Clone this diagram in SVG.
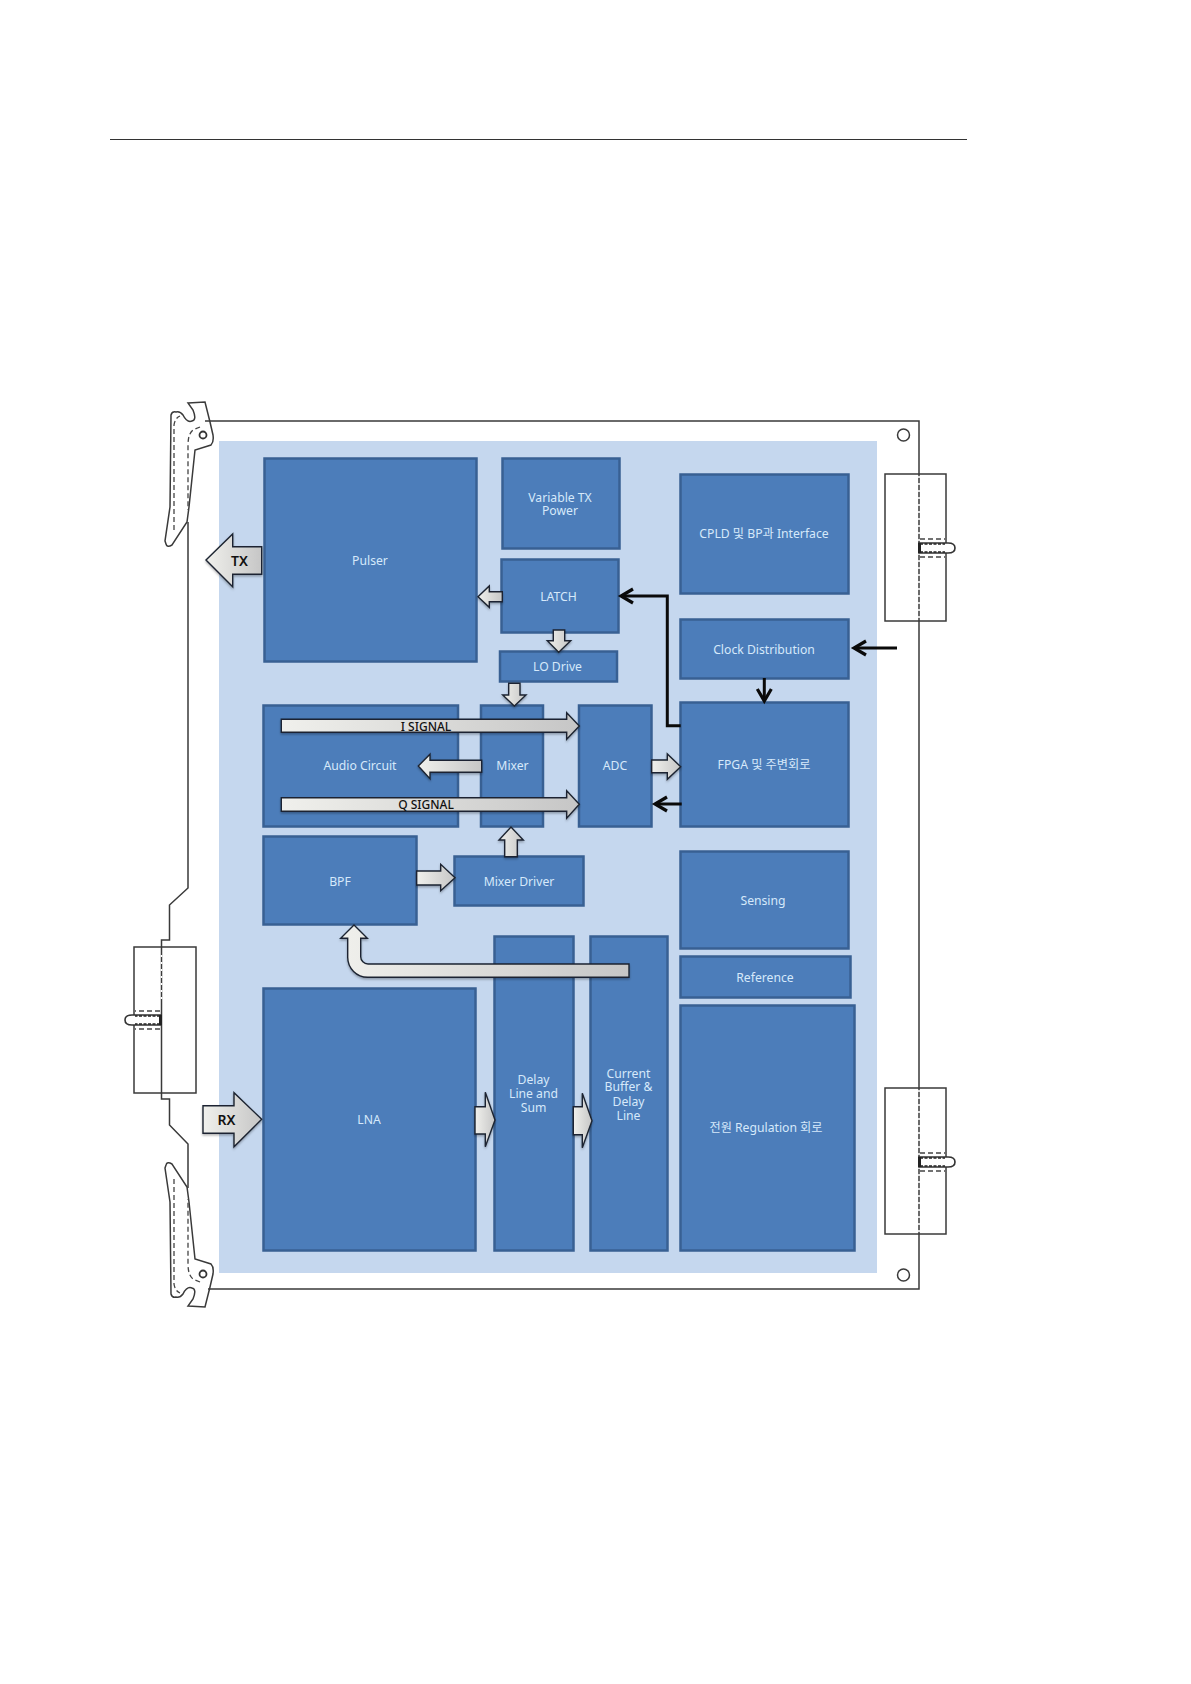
<svg xmlns="http://www.w3.org/2000/svg" width="1191" height="1684" viewBox="0 0 1191 1684">
<style>
.box{fill:#4c7dba;stroke:#386093;stroke-width:2.5}
.t{font-family:"Noto Sans","Noto Sans CJK KR",sans-serif;font-size:12.2px;fill:#d6e9fa;text-anchor:middle;dominant-baseline:central}
.b{font-family:"Noto Sans",sans-serif;font-size:14px;font-weight:600;fill:#111;text-anchor:middle;dominant-baseline:central}
.s{font-family:"Noto Sans",sans-serif;font-size:12px;font-weight:500;fill:#111;text-anchor:middle;dominant-baseline:central}
.ba{fill:url(#g);stroke:#1c2430;stroke-width:1.4;stroke-linejoin:miter;filter:url(#sh)}
.ln{fill:none;stroke:#3a3a3a;stroke-width:1.5}
.wd{fill:none;stroke:#fff;stroke-width:1.6;stroke-dasharray:2 5}
.dk{fill:none;stroke:#444;stroke-width:1.3;stroke-dasharray:5 3}
.k{fill:none;stroke:#0a0a0a;stroke-width:3;stroke-linejoin:miter}
.h{fill:none;stroke:#0a0a0a;stroke-width:3.2}
</style>
<defs>
<linearGradient id="g" x1="0" y1="0" x2="1" y2="0"><stop offset="0" stop-color="#f0f0ec"/><stop offset="1" stop-color="#c6c6c6"/></linearGradient>
<filter id="sh" x="-20%" y="-20%" width="140%" height="140%"><feDropShadow dx="0" dy="1.5" stdDeviation="1.2" flood-color="#000" flood-opacity="0.3"/></filter>
<g id="lever">
<path class="ln" d="M188 403L205 402L210 422L213 435Q214 442 211 445L195 450L189 507L187 522L172 545Q167 548 166 544L165 541L170 507L171 415Q172 411 176 412Q180 411 183 415Q187 423 192 421Q197 420 193 410Z"/>
<path class="dk" d="M174 530V425Q175 418 180 416"/>
<path class="dk" d="M200 427L193 430Q188 434 188 445V510"/>
<circle cx="203" cy="435" r="3.500" fill="#fff" stroke="#333" stroke-width="1.800"/>
</g>
<g id="screw">
<path d="M0 -5H29Q36 -5 36 0Q36 5 29 5H0Z" fill="#fff" stroke="#333" stroke-width="1.600"/>
<path d="M1 -9H26M1 9H26" class="dk"/>
<path d="M1 -4H26M1 4H26" fill="none" stroke="#222" stroke-width="1.600" stroke-dasharray="3 1.500"/>
<rect x="-1" y="-5" width="3" height="10" fill="#222"/>
</g>
</defs>
<rect width="1191" height="1684" fill="#fff"/>
<line x1="110" y1="139.500" x2="967" y2="139.500" stroke="#333" stroke-width="1.200"/>

<g id="board">
<path class="ln" d="M205 421H919V1289H208"/>
<path class="ln" d="M188 522V888L169.500 905V940H161.500V1099H169.500V1125L188 1144V1188"/>
<circle class="ln" cx="903.500" cy="435" r="6" fill="#fff"/>
<circle class="ln" cx="903.500" cy="1275" r="6" fill="#fff"/>
<use href="#lever"/>
<use href="#lever" transform="translate(0 1709) scale(1 -1)"/>
</g>

<rect id="panel" x="219" y="441" width="658" height="832" fill="#c5d7ee"/>

<g id="brackets">
<rect class="ln" x="885" y="474" width="61" height="147"/>
<rect class="ln" x="885" y="1088" width="61" height="146"/>
<rect class="ln" x="134" y="947" width="62" height="146"/>
<path class="wd" d="M919 476V620M919 1090V1233M161.500 955V1000"/>
<use href="#screw" transform="translate(919 548)"/>
<use href="#screw" transform="translate(919 1162)"/>
<use href="#screw" transform="translate(161 1020) scale(-1 1)"/>
</g>

<g id="pulser"><rect class="box" x="264.500" y="458.500" width="212" height="203"/><text class="t" x="370" y="560">Pulser</text></g>
<g id="variable-tx"><rect class="box" x="502.500" y="458.500" width="117" height="90"/><text class="t" x="560" y="497">Variable TX</text><text class="t" x="560" y="510">Power</text></g>
<g id="latch"><rect class="box" x="501.500" y="559.500" width="117" height="73"/><text class="t" x="558.500" y="596">LATCH</text></g>
<g id="lo-drive"><rect class="box" x="500" y="651.500" width="117" height="30"/><text class="t" x="557.500" y="666">LO Drive</text></g>
<g id="cpld"><rect class="box" x="680.500" y="474.500" width="168" height="119"/><text class="t" x="764" y="533">CPLD  및 BP과 Interface</text></g>
<g id="clock"><rect class="box" x="680.500" y="619.500" width="168" height="59"/><text class="t" x="764" y="649">Clock Distribution</text></g>
<g id="fpga"><rect class="box" x="680.500" y="702.500" width="168" height="124"/><text class="t" x="764" y="764">FPGA 및 주변회로</text></g>
<g id="adc"><rect class="box" x="579" y="705.500" width="72.500" height="121"/><text class="t" x="615" y="765">ADC</text></g>
<g id="audio"><rect class="box" x="263.500" y="705.500" width="194.500" height="121"/><text class="t" x="360" y="765">Audio Circuit</text></g>
<g id="mixer"><rect class="box" x="481" y="705.500" width="62" height="121"/><text class="t" x="512.500" y="765">Mixer</text></g>
<g id="bpf"><rect class="box" x="263.500" y="836.500" width="153" height="88"/><text class="t" x="340" y="881">BPF</text></g>
<g id="mixer-driver"><rect class="box" x="454.500" y="856.500" width="129" height="49"/><text class="t" x="519" y="881">Mixer Driver</text></g>
<g id="sensing"><rect class="box" x="680.500" y="851.500" width="168" height="97"/><text class="t" x="763" y="900">Sensing</text></g>
<g id="reference"><rect class="box" x="680.500" y="956.500" width="170" height="41"/><text class="t" x="765" y="977">Reference</text></g>
<g id="lna"><rect class="box" x="263.500" y="988.500" width="212" height="262"/><text class="t" x="369" y="1119">LNA</text></g>
<g id="delay"><rect class="box" x="494.500" y="936.500" width="79" height="314"/><text class="t" x="533.500" y="1079">Delay</text><text class="t" x="533.500" y="1093">Line and</text><text class="t" x="533.500" y="1107">Sum</text></g>
<g id="current"><rect class="box" x="590.500" y="936.500" width="77" height="314"/><text class="t" x="628.500" y="1073">Current</text><text class="t" x="628.500" y="1086">Buffer  &amp;</text><text class="t" x="628.500" y="1101">Delay</text><text class="t" x="628.500" y="1115">Line</text></g>
<g id="power"><rect class="box" x="680.500" y="1005.500" width="174" height="245"/><text class="t" x="766" y="1127">전원 Regulation 회로</text></g>

<g id="connectors">
<polygon class="ba" points="206,560 232.700,534 232.700,546.700 261.700,546.700 261.700,574.300 232.700,574.300 232.700,586.700"/>
<polygon class="ba" points="203,1105.700 234,1105.700 234,1092.700 261.700,1119.300 234,1146.700 234,1133.300 203,1133.300"/>
<polygon class="ba" points="478,596.700 489.300,586 489.300,591.700 502.300,591.700 502.300,601.700 489.300,601.700 489.300,607.300"/>
<polygon class="ba" points="553.300,630 564.700,630 564.700,640.700 570.700,640.700 558.700,652.300 547.300,640.700 553.300,640.700"/>
<polygon class="ba" points="508.700,683.300 520,683.300 520,695 526,695 514.300,706 502.700,695 508.700,695"/>
<polygon class="ba" points="281.300,719.300 566.700,719.300 566.700,712.700 579.300,726 566.700,739.300 566.700,732.300 281.300,732.300"/>
<polygon class="ba" points="281.300,797.700 566.700,797.700 566.700,790.700 579.300,804.300 566.700,818.300 566.700,811.300 281.300,811.300"/>
<polygon class="ba" points="418.300,766 430,754.300 430,760.300 481.700,760.300 481.700,772.300 430,772.300 430,778.700"/>
<polygon class="ba" points="651.700,760 667.300,760 667.300,754 680.700,766.700 667.300,779.300 667.300,772.700 651.700,772.700"/>
<polygon class="ba" points="416.700,871 440.700,871 440.700,864.300 455,877.700 440.700,890.700 440.700,885 416.700,885"/>
<polygon class="ba" points="504.700,856.700 504.700,840 499,840 511,827 523.300,840 517.300,840 517.300,856.700"/>
<polygon class="ba" points="475,1106.700 485.300,1106.700 485.300,1092.300 495,1120 485.300,1146.700 485.300,1134 475,1134"/>
<polygon class="ba" points="573.300,1106.700 582.300,1106.700 582.300,1093.300 592,1120.700 582.300,1147.700 582.300,1134.700 573.300,1134.700"/>
<path class="ba" d="M629 964V977.300H367.700A20 20 0 0 1 347.700 957.300V938.300H340.700L354 925L367.300 938.300H360.700V956.700A7.300 7.300 0 0 0 368 964Z"/>
<path class="k" d="M680.700 725.700H667.300V596H621"/><path class="h" d="M633 589L621 596L633 603"/>
<path class="k" d="M897 648H854"/><path class="h" d="M866 641L854 648L866 655"/>
<path class="k" d="M764.300 678V700"/><path class="h" d="M757.300 689L764.300 701L771.300 689"/>
<path class="k" d="M681.700 804H655"/><path class="h" d="M667 797L655 804L667 811"/>
</g>
<g id="arrow-labels">
<text class="b" x="239.500" y="560">TX</text>
<text class="b" x="226.500" y="1119">RX</text>
<text class="s" x="426" y="726">I SIGNAL</text>
<text class="s" x="426" y="804">Q SIGNAL</text>
</g>
</svg>
